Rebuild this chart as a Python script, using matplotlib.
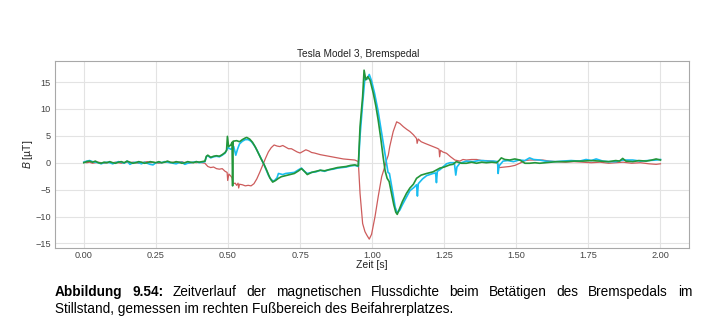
import matplotlib
matplotlib.use("Agg")
import matplotlib.pyplot as plt

plt.rcParams['font.family'] = ['Liberation Sans', 'DejaVu Sans']
plt.rcParams['mathtext.fontset'] = 'custom'
plt.rcParams['mathtext.it'] = 'Liberation Sans:italic'
plt.rcParams['mathtext.rm'] = 'Liberation Sans'

title = "Tesla Model 3, Bremspedal"
xlabel = "Zeit [s]"
ylabel = "$B$ [µT]"
xticks = [0.00, 0.25, 0.50, 0.75, 1.00, 1.25, 1.50, 1.75, 2.00]
yticks = [-15, -10, -5, 0, 5, 10, 15]

t_early = [0.00, 0.01, 0.02, 0.03, 0.04, 0.05, 0.06, 0.07, 0.08, 0.09,
           0.10, 0.11, 0.12, 0.13, 0.14, 0.15, 0.16, 0.17, 0.18, 0.19,
           0.20, 0.21, 0.22, 0.23, 0.24, 0.25, 0.26, 0.27, 0.28, 0.29,
           0.30, 0.31, 0.32, 0.33, 0.34, 0.35, 0.36, 0.37, 0.38, 0.39,
           0.40, 0.41]

# red series
r_early = [0.1, 0.0, 0.1, -0.1, 0.0, 0.1, 0.0, -0.1, 0.0, 0.1, 0.0, 0.1, 0.0, -0.1,
           0.0, 0.1, 0.0, 0.1, 0.0, -0.1, 0.0, 0.1, 0.2, 0.0, 0.1, 0.0, -0.1, 0.0,
           0.1, 0.2, 0.0, 0.1, 0.0, 0.1, 0.2, 0.0, -0.1, 0.0, 0.1, 0.0, 0.1, 0.0]
t_red = [0.42, 0.43, 0.44, 0.45, 0.46, 0.47, 0.48, 0.49, 0.497, 0.499, 0.503, 0.51,
         0.514, 0.517, 0.525, 0.53, 0.535, 0.537, 0.54, 0.55, 0.56, 0.57, 0.58, 0.59,
         0.60, 0.61, 0.62, 0.63, 0.64, 0.65, 0.66, 0.67, 0.68, 0.69, 0.70, 0.71, 0.72,
         0.73, 0.74, 0.75, 0.76, 0.77, 0.78, 0.79, 0.80, 0.82, 0.84, 0.86, 0.88, 0.90,
         0.92, 0.94, 0.952, 0.958, 0.967, 0.975, 0.982, 0.99, 0.998, 1.01, 1.021,
         1.033, 1.044, 1.05, 1.056, 1.061, 1.073, 1.085, 1.096, 1.108, 1.12, 1.131,
         1.143, 1.154, 1.156, 1.16, 1.17, 1.183, 1.197, 1.211, 1.225, 1.232, 1.234,
         1.237, 1.245, 1.258, 1.272, 1.287, 1.304, 1.315, 1.327, 1.345, 1.362, 1.38,
         1.396, 1.415, 1.431, 1.442, 1.46, 1.477, 1.495, 1.512, 1.53, 1.546, 1.565,
         1.592, 1.615, 1.638, 1.67, 1.70, 1.731, 1.76, 1.79, 1.82, 1.846, 1.87, 1.90,
         1.93, 1.96, 1.985, 2.0]
b_red = [-0.1, -0.7, -0.9, -0.8, -1.1, -1.2, -1.1, -1.6, -1.8, -3.3, -2.1, -2.5,
         -2.8, -3.9, -3.8, -4.2, -3.8, -4.7, -4.0, -4.1, -4.3, -4.2, -4.3, -3.9,
         -3.0, -1.8, -0.5, 0.8, 2.0, 2.8, 3.3, 3.1, 3.0, 3.2, 2.9, 2.6, 2.6,
         2.3, 2.0, 1.8, 2.1, 2.4, 2.2, 1.9, 1.8, 1.5, 1.3, 1.1, 0.9, 0.7,
         0.6, 0.5, 0.2, -5.7, -11.3, -12.8, -13.5, -14.2, -13.3, -10.0, -6.3,
         -2.6, -0.7, 0.5, 1.4, 3.0, 5.8, 7.6, 7.3, 6.7, 6.2, 5.8,
         5.2, 4.5, 3.6, 4.4, 3.9, 3.6, 3.3, 3.0, 2.7, 2.5, 1.1,
         2.3, 2.0, 1.75, 1.1, 0.5, 0.3, 0.6, 0.5, 0.6, 0.6, 0.4,
         0.4, 0.3, 0.2, -0.9, -0.8, -0.7, -0.5, -0.1, 0.4, 0.5, 0.5,
         0.5, 0.3, 0.2, 0.1, 0.2, 0.1, 0.0, 0.1, -0.1, 0.0, 0.1, -0.1,
         0.0, -0.2, -0.3, -0.2]

# cyan series
c_early = [0.1, 0.3, 0.4, 0.2, 0.1, 0.0, -0.2, 0.0, 0.1, 0.0, -0.2, 0.0, 0.2, 0.1,
           -0.1, 0.3, -0.3, 0.0, 0.1, 0.0, -0.2, 0.1, -0.1, -0.3, -0.4, 0.0, 0.1, 0.0,
           0.2, 0.1, 0.0, -0.1, -0.2, 0.0, 0.1, -0.3, -0.1, 0.0, 0.1, 0.2, 0.0, 0.1]
t_cyan = [0.42, 0.425, 0.43, 0.44, 0.45, 0.46, 0.47, 0.48, 0.49, 0.50, 0.51, 0.52,
          0.527, 0.533, 0.54, 0.55, 0.56, 0.57, 0.58, 0.59, 0.60, 0.61, 0.62, 0.63,
          0.64, 0.65, 0.66, 0.67, 0.675, 0.69, 0.70, 0.715, 0.73, 0.745, 0.755, 0.765,
          0.775, 0.79, 0.805, 0.82, 0.835, 0.85, 0.865, 0.88, 0.895, 0.91, 0.925, 0.94,
          0.952, 0.958, 0.967, 0.975, 0.982, 0.99, 0.998, 1.008, 1.02, 1.03, 1.04,
          1.048, 1.055, 1.06, 1.065, 1.073, 1.08, 1.087, 1.096, 1.105, 1.12, 1.131,
          1.145, 1.154, 1.157, 1.16, 1.175, 1.189, 1.211, 1.22, 1.223, 1.226, 1.235,
          1.25, 1.258, 1.27, 1.285, 1.29, 1.294, 1.304, 1.327, 1.35, 1.37, 1.384,
          1.40, 1.42, 1.435, 1.437, 1.44, 1.454, 1.47, 1.49, 1.51, 1.53, 1.546, 1.56,
          1.581, 1.60, 1.638, 1.66, 1.69, 1.72, 1.742, 1.76, 1.777, 1.80, 1.82, 1.846,
          1.87, 1.904, 1.93, 1.96, 1.985, 2.0]
b_cyan = [0.2, 1.1, 1.3, 0.9, 1.1, 1.2, 1.1, 1.4, 1.8, 2.8, 2.5, 3.0,
          1.4, 2.5, 3.5, 4.0, 4.3, 4.3, 4.0, 3.3, 2.4, 1.3, 0.2, -1.0,
          -2.3, -3.2, -3.4, -2.8, -2.0, -2.2, -2.0, -1.9, -1.8, -1.3, -1.0, -1.6,
          -2.0, -1.8, -1.7, -1.4, -1.6, -1.3, -1.2, -1.0, -0.9, -0.8, -0.6, -0.5,
          -0.7, 5.0, 11.0, 15.8, 15.5, 16.4, 15.2, 13.0, 9.8, 6.5, 3.2,
          0.5, -1.8, -2.0, -3.5, -6.0, -8.3, -9.3, -8.8, -7.8, -6.3, -5.2,
          -4.6, -4.1, -6.2, -3.9, -3.0, -2.4, -2.0, -1.9, -3.7, -1.6, -1.3,
          -0.6, -0.2, 0.0, 0.0, -2.3, -0.8, -0.1, 0.3, 0.2, 0.4, 0.4,
          0.3, 0.3, 0.2, -2.0, -0.6, 0.3, 0.4, 0.2, 0.5, 0.4, 0.9, 0.6,
          0.5, 0.3, 0.2, 0.3, 0.4, 0.3, 0.6, 0.4, 0.7, 0.3, 0.2, 0.2,
          0.5, 0.5, 0.3, 0.4, 0.5, 0.6]

# green series
g_early = [0.0, 0.2, 0.3, 0.1, 0.3, 0.0, -0.1, 0.1, 0.0, 0.2, 0.0, -0.1, 0.1, 0.2,
           0.0, 0.3, 0.1, -0.1, 0.0, 0.2, 0.1, -0.1, 0.0, 0.2, 0.1, 0.0, 0.2, 0.0,
           0.1, 0.3, 0.1, 0.0, 0.2, 0.1, -0.1, 0.0, 0.2, 0.1, 0.0, 0.2, 0.1, 0.2]
t_green = [0.42, 0.425, 0.43, 0.44, 0.45, 0.46, 0.47, 0.48, 0.49, 0.495, 0.498, 0.502,
           0.51, 0.514, 0.516, 0.518, 0.53, 0.54, 0.55, 0.56, 0.565, 0.575, 0.585,
           0.595, 0.605, 0.615, 0.625, 0.635, 0.645, 0.655, 0.665, 0.675, 0.685, 0.70,
           0.715, 0.73, 0.745, 0.755, 0.765, 0.775, 0.79, 0.805, 0.82, 0.835, 0.85,
           0.865, 0.88, 0.895, 0.91, 0.925, 0.94, 0.952, 0.958, 0.967, 0.972, 0.978,
           0.985, 0.993, 1.004, 1.013, 1.021, 1.03, 1.038, 1.045, 1.052, 1.059, 1.067,
           1.075, 1.082, 1.087, 1.096, 1.105, 1.119, 1.131, 1.143, 1.154, 1.17, 1.189,
           1.211, 1.235, 1.25, 1.269, 1.28, 1.292, 1.31, 1.327, 1.345, 1.362, 1.38,
           1.396, 1.415, 1.431, 1.44, 1.448, 1.46, 1.477, 1.495, 1.512, 1.53, 1.546,
           1.565, 1.581, 1.60, 1.616, 1.64, 1.673, 1.70, 1.731, 1.76, 1.789, 1.82,
           1.845, 1.858, 1.869, 1.88, 1.904, 1.925, 1.95, 1.97, 1.985, 2.0]
b_green = [0.3, 1.2, 1.4, 1.0, 1.2, 1.3, 1.2, 1.5, 1.9, 2.3, 4.9, 3.0,
           3.3, 3.8, -4.3, 4.0, 4.1, 3.9, 4.3, 4.6, 4.7, 4.4, 3.8,
           2.9, 1.8, 0.7, -0.3, -1.5, -2.8, -3.6, -3.3, -2.9, -2.6, -2.4,
           -2.2, -2.0, -1.5, -1.1, -1.6, -2.2, -1.8, -1.6, -1.4, -1.5, -1.3,
           -1.1, -0.9, -0.8, -0.7, -0.5, -0.4, -0.6, 6.7, 12.3, 17.2, 15.4,
           16.0, 15.3, 12.9, 10.5, 7.9, 4.5, 1.1, -1.5, -2.9, -3.5, -5.7,
           -7.8, -9.2, -9.6, -8.4, -7.2, -5.7, -4.7, -4.0, -2.9, -2.3, -2.0,
           -1.7, -1.0, -0.8, -0.4, -0.3, 0.2, -0.1, -0.1, 0.1, -0.1, 0.1,
           0.0, 0.1, 0.0, 0.4, 0.9, 0.6, 0.5, 0.7, 0.5, -0.1, -0.1,
           0.0, -0.1, 0.0, 0.1, 0.2, 0.2, 0.3, 0.3, 0.4, 0.3, 0.2,
           0.4, 0.3, 0.8, 0.3, 0.2, 0.4, 0.3, 0.5, 0.7, 0.5]

caption_bold = "Abbildung 9.54:"
caption_line1 = "Zeitverlauf der magnetischen Flussdichte beim Betätigen des Bremspedals im"
caption_line2 = "Stillstand, gemessen im rechten Fußbereich des Beifahrerplatzes."

fig = plt.figure(figsize=(7.09, 3.30), dpi=100)
ax = fig.add_axes([55/709, 1 - 248/330, (689.3 - 55)/709, (248 - 61.3)/330])
ax.set_facecolor('white')

ax.plot(t_early + t_red, r_early + b_red, color='#cd5c5c', lw=0.9, zorder=3)
ax.plot(t_early + t_cyan, c_early + b_cyan, color='#19bdf0', lw=1.2, zorder=4)
ax.plot(t_early + t_green, g_early + b_green, color='#23963a', lw=1.2, zorder=5)

ax.set_xticks(xticks)
ax.set_xticklabels([f"{v:.2f}" for v in xticks])
ax.set_yticks(yticks)
ax.set_xlim(-0.1, 2.1)
ax.set_ylim(-15.85, 18.85)
ax.grid(True, color='#e3e3e3', lw=0.8)
ax.set_axisbelow(True)
for s in ax.spines.values():
    s.set_color('#a8a8a8')
    s.set_linewidth(0.8)
ax.tick_params(length=0, labelsize=6.6, colors='#444444')
ax.tick_params(axis='x', pad=2)
ax.tick_params(axis='y', pad=3)
ax.set_xlabel(xlabel, fontsize=7.5, color='#222222', labelpad=0.5)
ax.set_ylabel(ylabel, fontsize=7.5, color='#222222', labelpad=0.5)
fig.text(358 / 709, 1 - 54 / 330, title, fontsize=7.3, color='#222222',
         ha='center', va='center')

# caption, first line justified
fig.canvas.draw()
renderer = fig.canvas.get_renderer()
x0, x1 = 55 / 709, 692 / 709
y1, y2 = 1 - 296 / 330, 1 - 313 / 330
cap_fs = 9.8
words = [(w, 'bold') for w in caption_bold.split()] + [(w, 'normal') for w in caption_line1.split()]
texts = []
total = 0
for w, fw in words:
    t = fig.text(0, y1, w, fontsize=cap_fs, fontweight=fw, color='black', ha='left', va='baseline')
    bb = t.get_window_extent(renderer)
    texts.append((t, bb.width / fig.bbox.width))
    total += bb.width / fig.bbox.width
gap = ((x1 - x0) - total) / (len(words) - 1)
x = x0
for t, w in texts:
    t.set_x(x)
    x += w + gap
fig.text(x0, y2, caption_line2, fontsize=cap_fs, color='black', ha='left', va='baseline')

fig.savefig('out.png', dpi=100, facecolor='white')
